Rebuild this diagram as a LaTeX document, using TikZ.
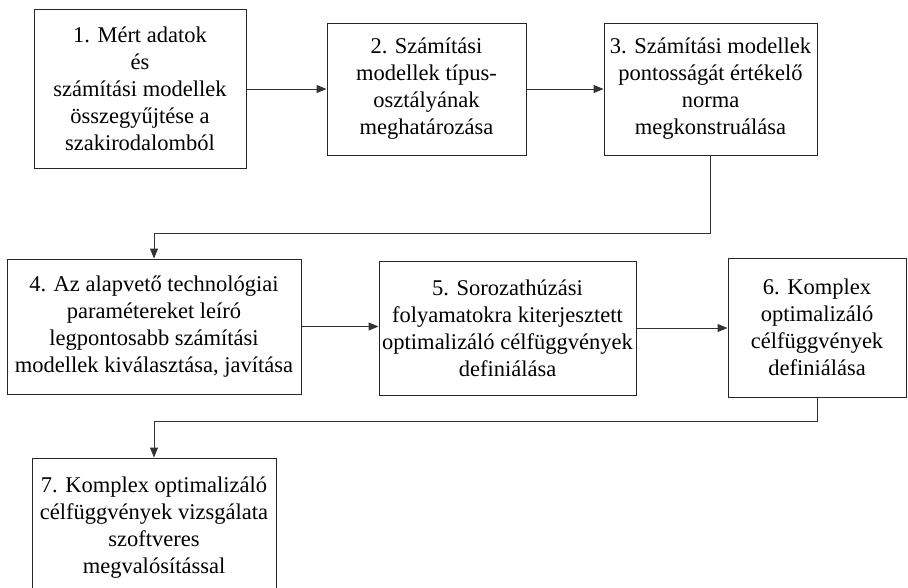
\documentclass[tikz,border=0pt]{standalone}
\usepackage{fontspec}
\setmainfont{Liberation Serif}
\usetikzlibrary{arrows.meta}
\begin{document}
\begin{tikzpicture}[x=1pt,y=-1pt,
  box/.style={draw=black!85, line width=1pt, align=center, inner sep=0pt,
    font=\fontsize{22.5}{27}\selectfont},
  conn/.style={draw=black!80, line width=1pt, -{Triangle[length=10pt,width=8pt]}}]
\clip (0,0) rectangle (908,587);
\fill[white] (0,0) rectangle (908,587);
\node[box, minimum width=212pt, minimum height=159pt] (b1) at (140,88.5)
  {1. Mért adatok\\és\\számítási modellek\\összegyűjtése a\\szakirodalomból};
\node[box, minimum width=199pt, minimum height=132pt] (b2) at (426.5,89)
  {2. Számítási\\modellek típus-\\osztályának\\meghatározása};
\node[box, minimum width=213pt, minimum height=132pt] (b3) at (710.5,89)
  {3. Számítási modellek\\pontosságát értékelő\\norma\\megkonstruálása};
\node[box, minimum width=294pt, minimum height=135pt] (b4) at (154,326.5)
  {4. Az alapvető technológiai\\paramétereket leíró\\legpontosabb számítási\\modellek kiválasztása, javítása};
\node[box, minimum width=257pt, minimum height=134pt] (b5) at (507.5,328)
  {5. Sorozathúzási\\folyamatokra kiterjesztett\\optimalizáló célfüggvények\\definiálása};
\node[box, minimum width=178pt, minimum height=139pt] (b6) at (817,327.5)
  {6. Komplex\\optimalizáló\\célfüggvények\\definiálása};
\node[box, minimum width=244pt, minimum height=140pt] (b7) at (154,528)
  {7. Komplex optimalizáló\\célfüggvények vizsgálata\\szoftveres\\megvalósítással};
\coordinate (j1) at (710.5,233);
\coordinate (j2) at (817,421);
\draw[conn] (b1.east |- b2.west) -- (b2.west);
\draw[conn] (b2.east) -- (b3.west);
\draw[conn] (b3.south) -- (j1) -| (b4.north);
\draw[conn] (b4.east) -- (b4.east -| b5.west);
\draw[conn] (b5.east) -- (b5.east -| b6.west);
\draw[conn] (b6.south) -- (j2) -| (b7.north);
\end{tikzpicture}
\end{document}
